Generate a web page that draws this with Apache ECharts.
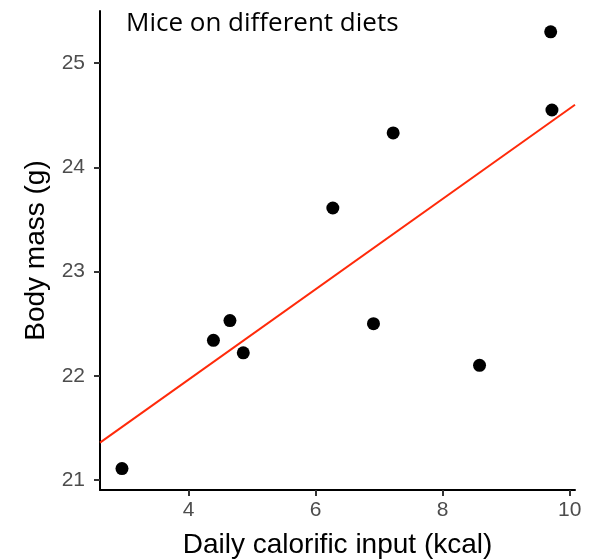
<!DOCTYPE html>
<html>
<head>
<meta charset="utf-8">
<script src="https://cdn.jsdelivr.net/npm/echarts@6/dist/echarts.min.js"></script>
<style>html,body{margin:0;padding:0;background:#fff}#c{width:590px;height:560px}</style>
</head>
<body>
<div id="c"></div>
<script>
const calorific = [2.95, 4.39, 4.65, 4.86, 6.27, 6.91, 7.22, 8.58, 9.70, 9.72];
const bodyMass = [21.11, 22.34, 22.53, 22.22, 23.61, 22.50, 24.33, 22.10, 25.30, 24.55];
const fitX = [2.604, 10.083];
const fitY = [21.358, 24.60];
const xTicks = [4, 6, 8, 10];
const yTicks = [21, 22, 23, 24, 25];

const chart = echarts.init(document.getElementById('c'), null, {renderer: 'canvas'});
const labelStyle = {color: '#4d4d4d', fontSize: 21, fontFamily: 'Liberation Sans, Arial'};
chart.setOption({
  animation: false,
  backgroundColor: '#fff',
  title: {
    text: 'Mice on different diets', left: 121, top: 6,
    textStyle: {fontFamily: 'Open Sans', fontWeight: 'normal', fontSize: 26, color: '#000'}
  },
  grid: {left: 100, right: 15, top: 11, bottom: 70, containLabel: false, outerBoundsMode: 'none'},
  xAxis: {
    type: 'value', min: 2.604, max: 10.083,
    name: 'Daily calorific input (kcal)', nameLocation: 'middle', nameGap: 41,
    nameTextStyle: {fontSize: 28, color: '#000', fontFamily: 'Liberation Sans, Arial'},
    axisLine: {show: true, lineStyle: {color: '#000', width: 2}},
    axisTick: {show: true, length: 6, lineStyle: {color: '#333', width: 2}, customValues: xTicks},
    axisLabel: Object.assign({margin: 10, customValues: xTicks}, labelStyle),
    splitLine: {show: false}
  },
  yAxis: {
    type: 'value', min: 20.904, max: 25.50,
    name: 'Body mass (g)', nameLocation: 'middle', nameGap: 47, nameRotate: 90,
    nameTextStyle: {fontSize: 28, color: '#000', fontFamily: 'Liberation Sans, Arial'},
    axisLine: {show: true, lineStyle: {color: '#000', width: 2}},
    axisTick: {show: true, length: 6, lineStyle: {color: '#333', width: 2}, customValues: yTicks},
    axisLabel: Object.assign({margin: 15, customValues: yTicks}, labelStyle),
    splitLine: {show: false}
  },
  series: [
    {
      type: 'line', data: fitX.map((x, i) => [x, fitY[i]]),
      showSymbol: false, lineStyle: {color: '#ff2a0a', width: 2}, z: 1
    },
    {
      type: 'scatter', data: calorific.map((x, i) => [x, bodyMass[i]]),
      symbolSize: 13, itemStyle: {color: '#000', opacity: 1}, z: 2
    }
  ]
});
</script>
</body>
</html>
